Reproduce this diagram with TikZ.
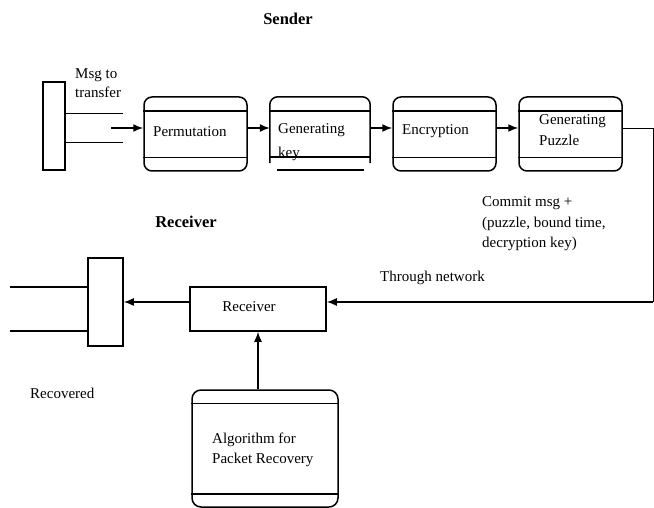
\documentclass[tikz,border=0pt]{standalone}
\usepackage{fontspec}
\setmainfont{Liberation Serif}
\usetikzlibrary{arrows.meta}
\begin{document}
\begin{tikzpicture}[x=1pt,y=-1pt,
 lbl/.style={font=\fontsize{15}{20.5}\selectfont, inner sep=0pt, align=left},
 hdr/.style={font=\fontsize{16.5}{18}\selectfont\bfseries, inner sep=0pt},
 proc/.style={draw, line width=1.5pt, rounded corners=8pt, minimum width=103pt, minimum height=74pt, inner sep=0pt},
 plain/.style={draw, line width=1.5pt, inner sep=0pt},
 arr/.style={-{Latex[length=10pt,width=8pt]}, line width=1.5pt},
 thin/.style={line width=0.9pt},
 rule/.style={line width=1.5pt}]
\useasboundingbox (0,0) rectangle (654,508);

% headers
\node[hdr] (sender) at (288,19) {Sender};
\node[hdr] (receiverhdr) at (186,222) {Receiver};

% sender row
\node[plain, minimum width=22pt, minimum height=88pt] (bar1) at (54,126) {};
\node[proc] (perm) at (195.5,134) {};
\node[inner sep=0pt, minimum width=100pt, minimum height=66pt] (gk) at (320,130) {};
\node[proc] (enc) at (444.5,134) {};
\node[proc] (puz) at (570.5,134) {};

\draw[rule, rounded corners=8pt] (gk.south west) -- (gk.north west) -- (gk.north east) -- (gk.south east);
\draw[rule] (270,111) -- (370,111);
\draw[rule] (270,157) -- (370,157);
\draw[rule] (277,170) -- (364,170);

\foreach \b in {perm,enc,puz}{
  \draw[rule] ([yshift=-15pt]\b.north west) -- ([yshift=-15pt]\b.north east);
  \draw[rule] ([yshift=14pt]\b.south west) -- ([yshift=14pt]\b.south east);
}

% texts in sender boxes
\node[lbl, anchor=west] (permt) at (153,132) {Permutation};
\node[lbl, anchor=west, font=\fontsize{15}{24}\selectfont] (gkt) at (278,142) {Generating\\key};
\node[lbl, anchor=west] (enct) at (402,131) {Encryption};
\node[lbl, anchor=west] (puzt) at (539,130) {Generating\\Puzzle};

% msg to transfer
\node[lbl, anchor=west, font=\fontsize{15}{19}\selectfont] (msg) at (75,83) {Msg to\\transfer};
\coordinate (u1) at (123,113);
\coordinate (u2) at (123,142);
\draw[thin] (bar1.east |- u1) -- (u1);
\draw[thin] (bar1.east |- u2) -- (u2);
\coordinate (m) at (111,128);
\draw[arr] (m) -- (m -| perm.west);
\draw[arr] (perm.east |- m) -- (gk.west |- m);
\draw[arr] (gk.east |- m) -- (enc.west |- m);
\draw[arr] (enc.east |- m) -- (puz.west |- m);

% network link
\coordinate (c1) at (653,128);
\coordinate (c2) at (653,302);
\node[plain, minimum width=136pt, minimum height=44pt] (recv) at (258,309) {};
\node[lbl] (recvt) at (249,307) {Receiver};
\draw[thin] (puz.east |- c1) -- (c1) -- (c2);
\draw[arr] (c2) -- (c2 -| recv.east);

\node[lbl, anchor=west] (commit) at (482,224) {Commit msg +\\(puzzle, bound time,\\decryption key)};
\node[lbl, anchor=west] (through) at (380,278) {Through network};

% receiver side
\node[plain, minimum width=35pt, minimum height=88pt] (bar2) at (105.5,302) {};
\draw[arr] (recv.west |- c2) -- (bar2.east |- c2);
\coordinate (l1) at (10,287);
\coordinate (l2) at (10,331);
\draw[rule] (l1) -- (l1 -| bar2.west);
\draw[rule] (l2) -- (l2 -| bar2.west);
\node[lbl, anchor=west] (recovered) at (30,393) {Recovered};

% algorithm box
\node[draw, line width=1.5pt, rounded corners=9pt, minimum width=146pt, minimum height=117pt, inner sep=0pt] (algo) at (265,448.5) {};
\draw[rule] ([yshift=-14pt]algo.north west) -- ([yshift=-14pt]algo.north east);
\draw[rule] ([yshift=14pt]algo.south west) -- ([yshift=14pt]algo.south east);
\node[lbl, anchor=west] (algot) at (212,450) {Algorithm for\\Packet Recovery};
\coordinate (ax) at (258,0);
\draw[arr] (algo.north -| ax) -- (recv.south -| ax);
\end{tikzpicture}
\end{document}
